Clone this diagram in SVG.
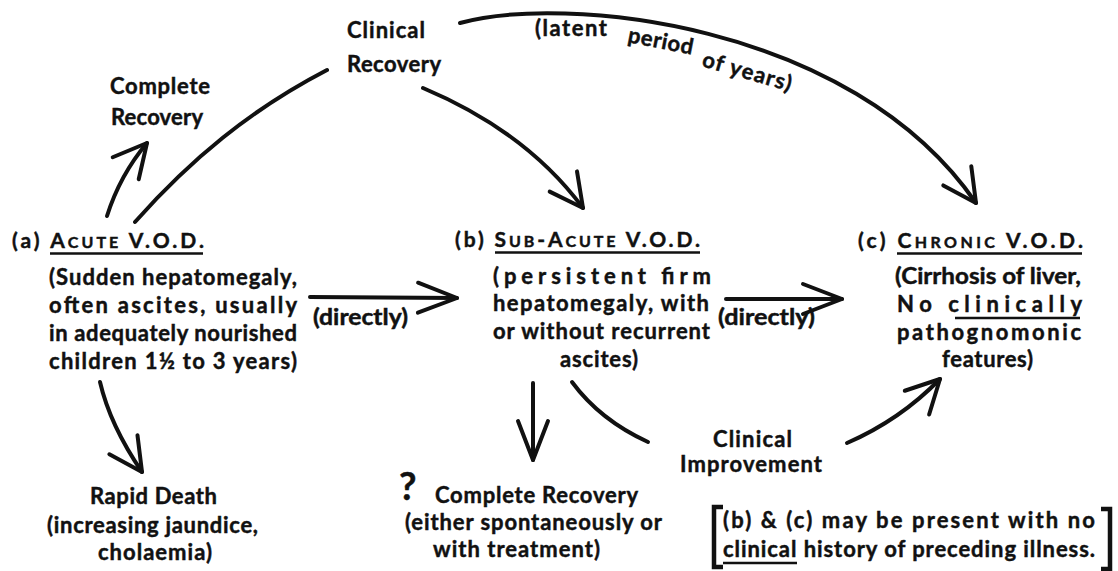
<svg xmlns="http://www.w3.org/2000/svg" width="1118" height="571" viewBox="0 0 1118 571">
<style>
  text { font-family: Lato, "Open Sans", "DejaVu Sans", sans-serif; font-weight: bold; fill: #111; stroke: #111; stroke-width: 0.45; }
  .t { font-size: 21px; }
  .b { font-size: 22px; }
  .sc { font-size: 16px; }
  .ul { stroke: #111; stroke-width: 2.5; fill: none; }
  .c { stroke: #111; stroke-width: 4; fill: none; stroke-linecap: round; stroke-linejoin: round; }
  .br { stroke: #111; stroke-width: 4.5; fill: none; }
</style>
<defs>
  <marker id="ah" markerUnits="userSpaceOnUse" markerWidth="80" markerHeight="80" refX="0" refY="0" orient="auto" overflow="visible">
    <path d="M-33,-17 L0,0 L-33,17" fill="none" stroke="#111" stroke-width="4" stroke-linecap="round" stroke-linejoin="round"/>
  </marker>
  <marker id="ahl" markerUnits="userSpaceOnUse" markerWidth="80" markerHeight="80" refX="0" refY="0" orient="auto" overflow="visible">
    <path d="M-39,-15 L0,0 L-39,15" fill="none" stroke="#111" stroke-width="4" stroke-linecap="round" stroke-linejoin="round"/>
  </marker>
</defs>
<rect width="1118" height="571" fill="#fff"/>

<g id="connectors">
  <path class="c" d="M107,216 Q120,175 147,143" marker-end="url(#ah)"/>
  <path class="c" d="M135,222 C190,160 250,110 327,70"/>
  <path class="c" d="M423,88 C480,112 540,150 583,208" marker-end="url(#ah)"/>
  <path class="c" d="M460,23 C560,-5 850,20 976,203" marker-end="url(#ah)"/>
  <path class="c" d="M100,382 Q110,425 142,472" marker-end="url(#ah)"/>
  <path class="c" d="M310,297 L457,298" marker-end="url(#ahl)"/>
  <path class="c" d="M726,299 L842,299" marker-end="url(#ahl)"/>
  <path class="c" d="M533,383 L533,460" marker-end="url(#ahl)"/>
  <path class="c" d="M572,382 Q600,420 648,442"/>
  <path class="c" d="M847,443 Q900,420 940,379" marker-end="url(#ah)"/>
  <text class="b" x="313" y="325" textLength="95" lengthAdjust="spacingAndGlyphs">(directly)</text>
  <text class="b" x="718" y="325" textLength="97" lengthAdjust="spacingAndGlyphs">(directly)</text>
  <text class="b" x="535" y="36" textLength="72" lengthAdjust="spacing">(latent</text>
  <text class="b" transform="translate(627,42) rotate(11)" x="0" y="0" textLength="66" lengthAdjust="spacing">period</text>
  <text class="b" transform="translate(701,66) rotate(16)" x="0" y="0" textLength="92" lengthAdjust="spacing">of years)</text>
</g>

<g id="clinical-recovery">
  <text class="b" x="347" y="38" textLength="78" lengthAdjust="spacing">Clinical</text>
  <text class="b" x="347" y="72" textLength="94" lengthAdjust="spacing">Recovery</text>
</g>

<g id="complete-recovery-top">
  <text class="b" x="110" y="94" textLength="100" lengthAdjust="spacing">Complete</text>
  <text class="b" x="111" y="125" textLength="92" lengthAdjust="spacing">Recovery</text>
</g>

<g id="acute">
  <text class="t" x="12" y="248" textLength="192" lengthAdjust="spacing">(a) A<tspan class="sc">CUTE</tspan> V.O.D.</text>
  <line class="ul" x1="50" y1="253.5" x2="203" y2="253.5"/>
  <text class="b" x="49" y="285" textLength="248" lengthAdjust="spacing">(Sudden hepatomegaly,</text>
  <text class="b" x="49" y="313" textLength="248" lengthAdjust="spacing">often ascites, usually</text>
  <text class="b" x="49" y="341" textLength="248" lengthAdjust="spacing">in adequately nourished</text>
  <text class="b" x="49" y="369" textLength="248" lengthAdjust="spacing">children 1½ to 3 years)</text>
</g>

<g id="sub-acute">
  <text class="t" x="455" y="247" textLength="245" lengthAdjust="spacing">(b) S<tspan class="sc">UB</tspan>-A<tspan class="sc">CUTE</tspan> V.O.D.</text>
  <line class="ul" x1="495" y1="252.5" x2="700" y2="252.5"/>
  <text class="b" x="493" y="284" textLength="218" lengthAdjust="spacing">(persistent firm</text>
  <text class="b" x="493" y="311" textLength="216" lengthAdjust="spacing">hepatomegaly, with</text>
  <text class="b" x="493" y="339" textLength="217" lengthAdjust="spacing">or without recurrent</text>
  <text class="b" x="560" y="367" textLength="78" lengthAdjust="spacing">ascites)</text>
</g>

<g id="chronic">
  <text class="t" x="858" y="248" textLength="225" lengthAdjust="spacing">(c) C<tspan class="sc">HRONIC</tspan> V.O.D.</text>
  <line class="ul" x1="897" y1="253.5" x2="1082" y2="253.5"/>
  <text class="b" x="895" y="284" textLength="186" lengthAdjust="spacingAndGlyphs">(Cirrhosis of liver,</text>
  <text class="b" x="897" y="312" textLength="185" lengthAdjust="spacing">No clinically</text>
  <line class="ul" x1="955" y1="318" x2="1080" y2="318"/>
  <text class="b" x="897" y="340" textLength="184" lengthAdjust="spacing">pathognomonic</text>
  <text class="b" x="942" y="367" textLength="91" lengthAdjust="spacing">features)</text>
</g>

<g id="rapid-death">
  <text class="b" x="90" y="504" textLength="127" lengthAdjust="spacing">Rapid Death</text>
  <text class="b" x="47" y="533" textLength="211" lengthAdjust="spacing">(increasing jaundice,</text>
  <text class="b" x="98" y="560" textLength="114" lengthAdjust="spacing">cholaemia)</text>
</g>

<g id="complete-recovery-bottom">
  <text x="399" y="500" style="font-size:38px">?</text>
  <text class="b" x="435" y="503" textLength="203" lengthAdjust="spacing">Complete Recovery</text>
  <text class="b" x="405" y="530" textLength="257" lengthAdjust="spacing">(either spontaneously or</text>
  <text class="b" x="433" y="557" textLength="167" lengthAdjust="spacing">with treatment)</text>
</g>

<g id="clinical-improvement">
  <text class="b" x="713" y="447" textLength="79" lengthAdjust="spacing">Clinical</text>
  <text class="b" x="680" y="472" textLength="142" lengthAdjust="spacing">Improvement</text>
</g>

<g id="note">
  <path class="br" d="M723,507 L714,507 L714,567 L723,567"/>
  <path class="br" d="M1101,509 L1110,509 L1110,569 L1101,569"/>
  <text class="b" x="723" y="528" textLength="372" lengthAdjust="spacing">(b) &amp; (c) may be present with no</text>
  <text class="b" x="723" y="557" textLength="372" lengthAdjust="spacing">clinical history of preceding illness.</text>
  <line class="ul" x1="723" y1="563" x2="797" y2="563"/>
</g>
</svg>
